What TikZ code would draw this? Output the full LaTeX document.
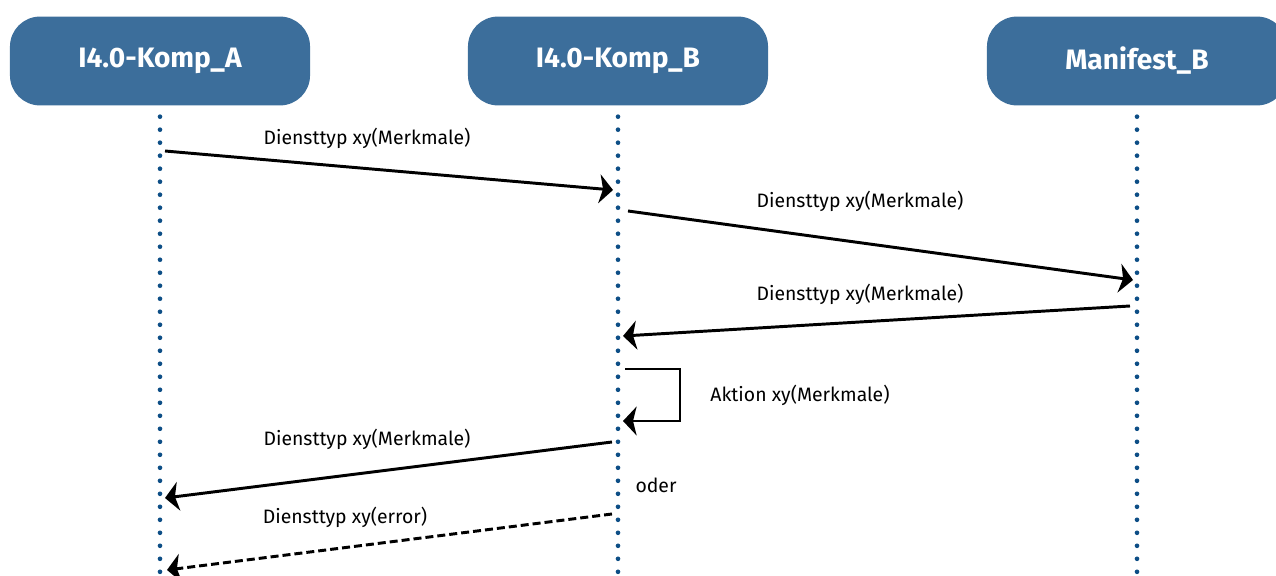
\documentclass[tikz,border=0pt]{standalone}
\usepackage{fontspec}
\setmainfont{Fira Sans}
\usepackage{tikz}
\usetikzlibrary{arrows.meta,calc}
\definecolor{boxblue}{HTML}{3C6E9B}
\definecolor{dotblue}{HTML}{0D4E86}
\tikzset{
  actor/.style={rectangle, rounded corners=0.75cm, fill=boxblue, text=white,
    font=\bfseries\fontsize{20}{24}\selectfont, minimum width=7.5cm,
    minimum height=2.22cm, inner sep=0pt},
  life/.style={draw=dotblue, line width=3.3pt, line cap=round,
    dash pattern=on 0pt off 0.325cm},
  msg/.style={draw=black, line width=2.1pt,
    -{Stealth[length=0.34cm, width=0.72cm, inset=0.09cm]}},
  reply/.style={msg, dash pattern=on 0.2cm off 0.1cm},
  labm/.style={font=\fontsize{13.8}{16}\selectfont, text=black}
}
\begin{document}
\begin{tikzpicture}[x=0.025cm, y=-0.025cm]
  \useasboundingbox (0,0) rectangle (1276,576);

  % Teilnehmer
  \node[actor] (A) at (160,61) {I4.0-Komp\_A};
  \node[actor] (B) at (618,61) {I4.0-Komp\_B};
  \node[actor] (M) at (1137,61) {Manifest\_B};

  % Lebenslinien
  \coordinate (Aend) at (160,576);
  \coordinate (Bend) at (618,576);
  \coordinate (Mend) at (1137,576);
  \draw[life] ($(A.south)+(0,11)$) -- (Aend);
  \draw[life] ($(B.south)+(0,11)$) -- (Bend);
  \draw[life] ($(M.south)+(0,11)$) -- (Mend);

  % Nachrichten
  \coordinate (a1) at (165,151);  \coordinate (b1) at (613,190);
  \coordinate (b2) at (628,211);  \coordinate (m2) at (1133,280);
  \coordinate (m3) at (1130,306); \coordinate (b3) at (623,336);
  \coordinate (b4) at (625,369);  \coordinate (b5) at (623,421);
  \coordinate (b6) at (612,442);  \coordinate (a6) at (165,498);
  \coordinate (b7) at (612,514);  \coordinate (a7) at (167,570);

  \draw[msg] (a1) -- (b1);
  \node[labm] (l1) at (367,138) {Diensttyp xy(Merkmale)};
  \draw[msg] (b2) -- (m2);
  \node[labm] (l2) at (860,201) {Diensttyp xy(Merkmale)};
  \draw[msg] (m3) -- (b3);
  \node[labm] (l3) at (860,294) {Diensttyp xy(Merkmale)};
  \draw[msg] (b4) -- (680,369) -- (680,421) -- (b5);
  \node[labm] (l4) at (800,395) {Aktion xy(Merkmale)};
  \draw[msg] (b6) -- (a6);
  \node[labm] (l5) at (367,439) {Diensttyp xy(Merkmale)};
  \node[labm] (oder) at (656,485) {oder};
  \draw[reply] (b7) -- (a7);
  \node[labm] (l6) at (345,517) {Diensttyp xy(error)};
\end{tikzpicture}
\end{document}
